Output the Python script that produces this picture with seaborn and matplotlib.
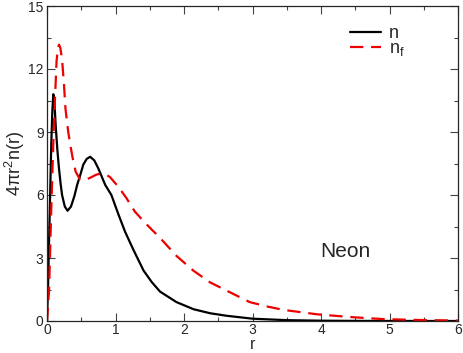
import matplotlib
matplotlib.use("Agg")
import matplotlib.pyplot as plt
import seaborn as sns
import pandas as pd
from matplotlib.ticker import MultipleLocator

# =============================
# Data
# =============================
r_n = [0, 0.015, 0.03, 0.047, 0.063, 0.078, 0.092, 0.107, 0.127, 0.15, 0.175,
       0.20, 0.22, 0.26, 0.30, 0.35, 0.40, 0.44, 0.49, 0.53, 0.58, 0.63,
       0.69, 0.75, 0.85, 0.94, 1.04, 1.14, 1.26, 1.41, 1.53, 1.65, 1.89,
       2.14, 2.38, 2.62, 3.0, 3.5, 4.0, 4.5, 5.0, 6.0]
n = [0, 1.6, 3.8, 6.2, 8.5, 10.0, 10.8, 10.5, 9.3, 8.2, 7.26,
     6.5, 6.0, 5.45, 5.25, 5.45, 5.95, 6.48, 7.0, 7.45, 7.72, 7.82,
     7.65, 7.26, 6.48, 6.0, 5.1, 4.25, 3.4, 2.4, 1.85, 1.4, 0.9,
     0.56, 0.37, 0.25, 0.11, 0.04, 0.015, 0.005, 0.002, 0]

r_f = [0, 0.03, 0.063, 0.10, 0.14, 0.16, 0.175, 0.195, 0.22, 0.245, 0.27,
       0.31, 0.35, 0.39, 0.42, 0.48, 0.55, 0.65, 0.72, 0.80, 0.86, 0.92,
       1.04, 1.16, 1.28, 1.41, 1.53, 1.65, 1.89, 2.14, 2.38, 2.62, 2.96,
       3.2, 3.45, 3.94, 4.42, 4.91, 5.4, 6.0]
n_f = [0, 1.45, 5.4, 9.3, 12.4, 13.0, 13.16, 13.0, 12.45, 11.4, 10.1,
       9.0, 8.2, 7.5, 7.1, 6.75, 6.7, 6.85, 6.97, 7.03, 6.98, 6.85,
       6.4, 5.85, 5.22, 4.75, 4.35, 3.96, 3.1, 2.39, 1.84, 1.45, 0.9,
       0.7, 0.53, 0.32, 0.19, 0.09, 0.05, 0.02]

df_n = pd.DataFrame({"r": r_n, "val": n})
df_f = pd.DataFrame({"r": r_f, "val": n_f})

# =============================
# Style
# =============================
sns.set_style("ticks")
plt.rcParams["font.family"] = ["Liberation Sans", "DejaVu Sans"]
plt.rcParams["mathtext.fontset"] = "custom"
plt.rcParams["mathtext.rm"] = "Liberation Sans"
plt.rcParams["mathtext.it"] = "Liberation Sans"

fig = plt.figure(figsize=(4.63, 3.53), dpi=100)
ax = fig.add_axes([47 / 463, 1 - 321 / 353, 411 / 463, 315 / 353])

sns.lineplot(data=df_n, x="r", y="val", color="black", lw=1.6,
             estimator=None, sort=False, label="n", ax=ax)
sns.lineplot(data=df_f, x="r", y="val", color="#ee0000", lw=1.6,
             estimator=None, sort=False, label="n$_f$", ax=ax)
ax.lines[1].set_dashes([6, 3.5])

ax.set_xlim(0, 6)
ax.set_ylim(0, 15)
ax.xaxis.set_major_locator(MultipleLocator(1))
ax.xaxis.set_minor_locator(MultipleLocator(0.5))
ax.yaxis.set_major_locator(MultipleLocator(3))
ax.yaxis.set_minor_locator(MultipleLocator(1.5))
ax.tick_params(which="both", direction="in", top=True, right=True,
               labelsize=10, width=0.8, color="#444444")
ax.tick_params(which="major", length=6, pad=1.5)
ax.tick_params(which="minor", length=3)
ax.tick_params(axis="y", which="major", pad=2.5)
for s in ax.spines.values():
    s.set_linewidth(0.9)

ax.set_xlabel("r", fontsize=11.5, labelpad=0)
ax.set_ylabel("4πr$^2$n(r)", fontsize=13, labelpad=1)

ax.text(4.35, 3.3, "Neon", fontsize=15, ha="center", va="center")

leg = ax.legend(loc="upper left", bbox_to_anchor=(0.737, 0.94), frameon=False,
                handlelength=1.7, handletextpad=0.45, labelspacing=-0.1,
                borderpad=0, borderaxespad=0, fontsize=13)

plt.savefig("out.png", dpi=100)
